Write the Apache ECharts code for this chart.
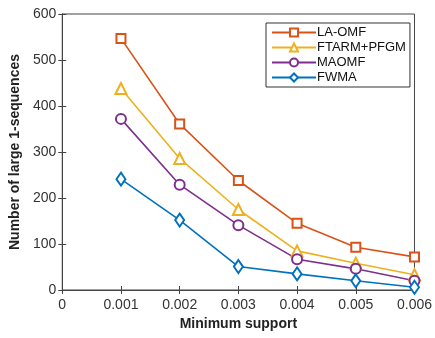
<!DOCTYPE html>
<html>
<head>
    <meta charset="utf-8">
    <title>Large 1-sequences</title>
    <script src="https://cdn.jsdelivr.net/npm/echarts@6/dist/echarts.min.js"></script>
    <style>
        html, body { margin: 0; padding: 0; background: #fff; }
        #chart { width: 435px; height: 338px; }
    </style>
</head>
<body>
<div id="chart"></div>
<script>
    var supports = [0.001, 0.002, 0.003, 0.004, 0.005, 0.006];
    var laOmf = [547, 361, 238, 145, 93, 72];
    var ftarm = [438, 286, 175, 85, 58, 33];
    var maomf = [372, 229, 141, 67, 46, 20];
    var fwma = [241, 152, 51, 35, 20, 6];

    var chart = echarts.init(document.getElementById('chart'));
    var font = 'Liberation Sans, Arial, sans-serif';

    function pairs(ys) {
        return supports.map(function (x, i) { return [x, ys[i]]; });
    }

    function line(name, ys, color, symbol, size) {
        return {
            name: name,
            type: 'line',
            data: pairs(ys),
            symbol: symbol,
            symbolSize: size,
            showAllSymbol: true,
            lineStyle: {color: color, width: 1.6},
            itemStyle: {color: color, borderWidth: 1.4},
            animation: false
        };
    }

    var option = {
        backgroundColor: '#fff',
        textStyle: {fontFamily: font},
        grid: {left: 59, right: 17, top: 14, bottom: 48, show: true, borderColor: '#444', borderWidth: 1},
        legend: {
            orient: 'vertical',
            left: 266,
            top: 23,
            width: 142,
            padding: [3, 4, 3, 5],
            itemGap: 2,
            itemWidth: 44,
            itemHeight: 10,
            borderColor: '#333',
            borderWidth: 1,
            backgroundColor: '#fff',
            textStyle: {fontSize: 13, color: '#111', fontFamily: font, padding: [0, 0, 0, -4]},
            data: ['LA-OMF', 'FTARM+PFGM', 'MAOMF', 'FWMA']
        },
        xAxis: [{
            type: 'value',
            min: 0,
            max: 0.006,
            interval: 0.001,
            name: 'Minimum support',
            nameLocation: 'middle',
            nameGap: 26,
            nameTextStyle: {fontWeight: 'bold', fontSize: 14, color: '#222'},
            axisLine: {lineStyle: {color: '#444'}},
            axisTick: {inside: true, length: 4, lineStyle: {color: '#444'}},
            axisLabel: {fontSize: 14, color: '#333', margin: 8, showMaxLabel: true},
            splitLine: {show: false}
        }, {
            type: 'value',
            position: 'top',
            min: 0,
            max: 0.006,
            interval: 0.001,
            axisLine: {lineStyle: {color: '#444'}},
            axisTick: {inside: true, length: 4, lineStyle: {color: '#444'}},
            axisLabel: {show: false},
            splitLine: {show: false}
        }],
        yAxis: [{
            type: 'value',
            min: 0,
            max: 600,
            interval: 100,
            name: 'Number of large 1-sequences',
            nameLocation: 'middle',
            nameGap: 35,
            nameTextStyle: {fontWeight: 'bold', fontSize: 14, color: '#222'},
            axisLine: {show: true, lineStyle: {color: '#444'}},
            axisTick: {show: true, inside: true, length: 4, lineStyle: {color: '#444'}},
            axisLabel: {fontSize: 14, color: '#333', margin: 6},
            splitLine: {show: false}
        }, {
            type: 'value',
            position: 'right',
            min: 0,
            max: 600,
            interval: 100,
            axisLine: {show: true, lineStyle: {color: '#444'}},
            axisTick: {show: true, inside: true, length: 4, lineStyle: {color: '#444'}},
            axisLabel: {show: false},
            splitLine: {show: false}
        }],
        series: [
            line('LA-OMF', laOmf, '#D95319', 'emptyRect', 9),
            line('FTARM+PFGM', ftarm, '#EDB120', 'emptyTriangle', 11),
            line('MAOMF', maomf, '#7E2F8E', 'emptyCircle', 10),
            line('FWMA', fwma, '#0072BD', 'emptyDiamond', [9, 13])
        ]
    };
    chart.setOption(option);
</script>
</body>
</html>
